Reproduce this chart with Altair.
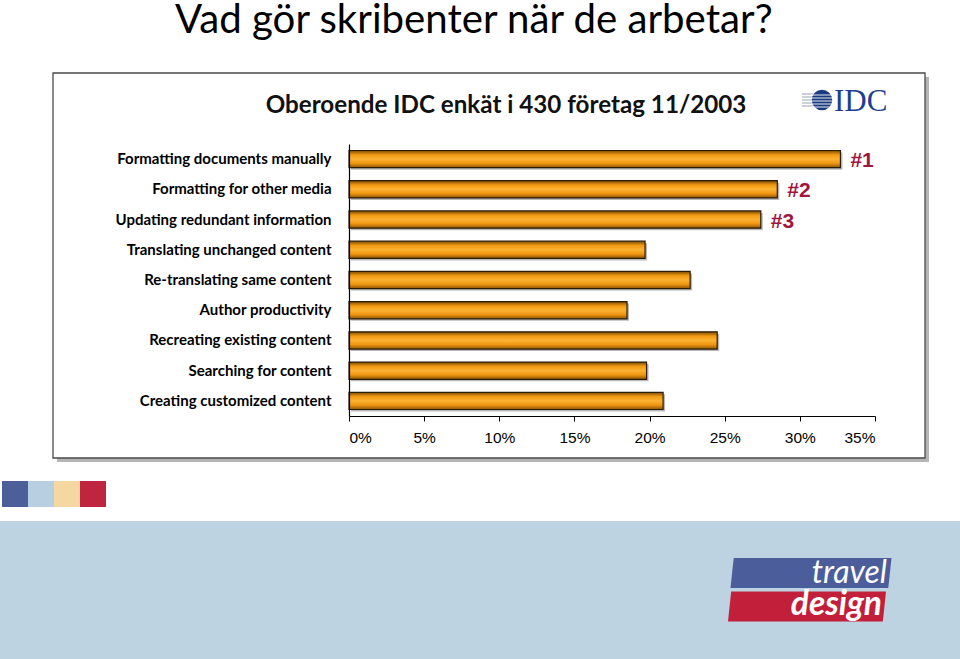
import altair as alt
import pandas as pd

# ---- data ----
tasks = [
    "Formatting documents manually",
    "Formatting for other media",
    "Updating redundant information",
    "Translating unchanged content",
    "Re-translating same content",
    "Author productivity",
    "Recreating existing content",
    "Searching for content",
    "Creating customized content",
]
values = [32.7, 28.5, 27.4, 19.7, 22.7, 18.5, 24.5, 19.8, 20.9]
ranks = ["#1", "#2", "#3", "", "", "", "", "", ""]
x_ticks = [0, 5, 10, 15, 20, 25, 30, 35]

title_text = "Vad gör skribenter när de arbetar?"
subtitle_text = "Oberoende IDC enkät i 430 företag 11/2003"
swatch_colors = ["#4d5f99", "#b8cfe2", "#f4d7a1", "#c0253f"]

df = pd.DataFrame({"task": tasks, "value": values, "rank": ranks})

# ---- layout helpers (plot area origin in page pixels) ----
L, T = 349, 144
W, H = 526, 272


def X(px):
    return alt.value(px - L)


def Y(px):
    return alt.value(px - T)


one = pd.DataFrame({"k": [0]})


def rect(x1, y1, x2, y2, **mk):
    return alt.Chart(one).mark_rect(**mk).encode(x=X(x1), x2=X(x2), y=Y(y1), y2=Y(y2))


def text(s, x, y, **mk):
    return alt.Chart(one).mark_text(text=s, **mk).encode(x=X(x), y=Y(y))


def hline(x1, x2, y, **mk):
    return alt.Chart(one).mark_rule(**mk).encode(x=X(x1), x2=X(x2), y=Y(y))


# ---- decorations ----
page_title = text(title_text, 175, 33, align="left", baseline="alphabetic",
                  font="Lato", fontSize=40.2, color="#000000")

box_shadow = rect(57, 77, 929, 462, color="#b5b5b5")
box = rect(53, 73, 925, 458, fill="#ffffff", stroke="#4a4a4a", strokeWidth=1.3)
subtitle = text(subtitle_text, 506, 106, align="center", baseline="middle",
                font="Lato", fontSize=24.2, fontWeight="bold", color="#111111")

# IDC logo
idc_lines = [hline(802, 822, yy, color="#9aa3b8", strokeWidth=1) for yy in [94, 97, 100, 103, 106]]
idc_globe = alt.Chart(one).mark_point(shape="circle", filled=True, size=420,
                                      color="#1c3a80", opacity=1).encode(x=X(822), y=Y(100))
idc_stripes = [hline(811, 833, yy, color="#ffffff", strokeWidth=0.9) for yy in [95, 98, 101, 104, 107]]
idc_text = text("IDC", 834, 111, align="left", baseline="alphabetic",
                font="Liberation Serif", fontSize=31, color="#1e3f8f")

# colour swatches
swatches = [rect(2 + 26 * i, 481, 28 + 26 * i, 507, color=c) for i, c in enumerate(swatch_colors)]

# footer
footer = rect(0, 521, 960, 659, color="#bdd3e1")
para_blue = alt.Chart(one).mark_point(
    shape="M -0.96 -0.186 L 1 -0.186 L 0.96 0.186 L -1 0.186 Z",
    filled=True, size=161 * 161, color="#4b5d9a", opacity=1
).encode(x=X(811), y=Y(573))
para_red = alt.Chart(one).mark_point(
    shape="M -0.96 -0.19 L 1 -0.19 L 0.96 0.19 L -1 0.19 Z",
    filled=True, size=158 * 158, color="#c21f3a", opacity=1
).encode(x=X(807), y=Y(606.5))
travel = text("travel", 887, 583, align="right", baseline="alphabetic",
              font="Lato", fontSize=32, fontStyle="italic", color="#ffffff")
design = text("design", 882, 615, align="right", baseline="alphabetic",
              font="Lato", fontSize=33.5, fontStyle="italic", fontWeight="bold", color="#ffffff")

# ---- main bars ----
y_enc = alt.Y("task:N", sort=None, title=None,
              scale=alt.Scale(paddingInner=0.43, paddingOuter=0.215),
              axis=alt.Axis(ticks=False, labelPadding=18, labelFont="Lato",
                            labelFontSize=15, labelFontWeight="bold", labelColor="#000000",
                            domainColor="#000000", domainWidth=1.2, zindex=1, labelLimit=400))
x_enc = alt.X("value:Q", title=None,
              scale=alt.Scale(domain=[0, 35], nice=False),
              axis=alt.Axis(values=x_ticks, labelExpr="datum.value + '%'", grid=False,
                            tickSize=5, tickColor="#000000", domainColor="#000000",
                            domainWidth=1.2, labelFont="Liberation Sans", labelFontSize=15.5,
                            labelColor="#000000", labelPadding=9, zindex=1))

bar_shadow = alt.Chart(df).mark_bar(color="#8a8a8a", opacity=0.6, xOffset=2, yOffset=2).encode(
    x=x_enc, y=y_enc)

grad = alt.Gradient(
    gradient="linear",
    stops=[
        alt.GradientStop(color="#7a4a05", offset=0),
        alt.GradientStop(color="#f29a12", offset=0.25),
        alt.GradientStop(color="#fbb233", offset=0.5),
        alt.GradientStop(color="#ef9510", offset=0.75),
        alt.GradientStop(color="#8a5406", offset=1),
    ],
    x1=0, x2=0, y1=0, y2=1,
)
bars = alt.Chart(df).mark_bar(fill=grad, stroke="#2b1d08", strokeWidth=1.2).encode(
    x=x_enc, y=y_enc)

rank_text = alt.Chart(df).mark_text(align="left", baseline="middle", dx=10, dy=2,
                                    font="Liberation Sans", fontSize=21, fontWeight="bold",
                                    color="#a0173d").encode(
    x=alt.X("value:Q"), y=alt.Y("task:N", sort=None), text="rank:N")

layers = [footer, page_title, box_shadow, box, subtitle] + idc_lines + [idc_globe] + idc_stripes + \
    [idc_text] + swatches + [para_blue, para_red, travel, design, bar_shadow, bars, rank_text]

chart = alt.layer(*layers).properties(
    width=W, height=H,
    autosize=alt.AutoSizeParams(type="none"),
    padding={"left": L, "top": T, "right": 960 - L - W, "bottom": 659 - T - H},
    background="#ffffff",
).configure_view(stroke=None)

chart.save("out.html", embed_options={"renderer": "svg", "actions": False})
